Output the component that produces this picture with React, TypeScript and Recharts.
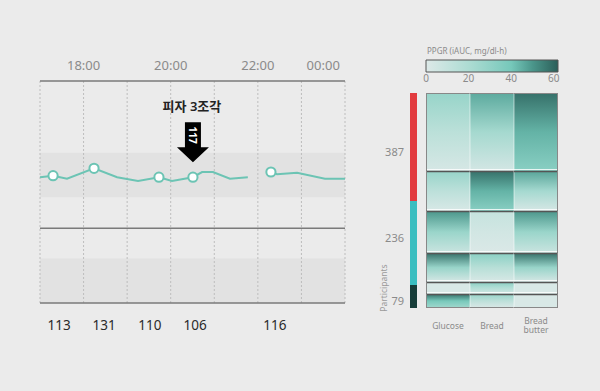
import React from "react";
import {
  ComposedChart,
  Line,
  XAxis,
  YAxis,
  ReferenceArea,
  ReferenceLine,
  ReferenceDot,
  BarChart,
  Bar,
  Cell,
} from "recharts";

// left panel: CGM trace (hours since midnight)
const hourLines = [17, 18, 19, 20, 21, 22, 23, 24];
const timeTicks = [18, 20, 22, 23.5];
const timeLabels = ["18:00", "20:00", "22:00", "00:00"];

const cgmTimes = [17.0, 17.3, 17.62, 18.24, 18.77, 19.25, 19.73, 20.03, 20.51, 20.72, 20.97, 21.36, 21.77, 22.0, 22.3, 22.44, 22.9, 23.54, 24.0];
const cgmValues = [170, 172, 168, 182, 170, 165, 170, 165, 170, 177, 177, 168, 170, null, 177, 174, 176, 168, 168];
const mealTimes = [17.3, 18.24, 19.73, 20.51, 22.3];

const mealLabelTimes = [17.44, 18.47, 19.52, 20.56, 22.39];
const mealLabels = ["113", "131", "110", "106", "116"];

const upperBand = [143, 203];
const lowerBand = [0, 60];
const dividerLevel = 101;

const pizzaTime = 20.51;
const pizzaLevel = 170;
const pizzaText = "피자 3조각";
const pizzaValue = "117";

// right panel: PPGR heatmap
const foods = ["Glucose", "Bread", "Bread butter"];
const clusterSizes = [78, 40, 42, 29, 12, 14];
const glucoseTop = [28, 28, 50, 58, 2, 58];
const glucoseBottom = [3, 2, 8, 3, 2, 24];
const breadTop = [46, 58, 10, 33, 33, 28];
const breadBottom = [4, 33, 1, 2, 5, 1];
const butterTop = [58, 47, 50, 58, 2, 2];
const butterBottom = [33, 3, 8, 3, 2, 2];

const groupSizes = [108, 84, 23];
const groupColors = ["#e23b3f", "#3bbec0", "#173d39"];
const groupTicks = [59, 145, 208];
const groupLabels = ["387", "236", "79"];

const ppgrTicks = [0, 20, 40, 60];
const ppgrMax = 62;

const colorStops: [number, string][] = [
  [0, "#dde9e8"],
  [20, "#addcd3"],
  [40, "#76c8ba"],
  [50, "#4b968b"],
  [62, "#2b5e59"],
];

function hex(c: string) {
  return [1, 3, 5].map((i) => parseInt(c.slice(i, i + 2), 16));
}
function ppgrColor(v: number) {
  for (let i = 1; i < colorStops.length; i++) {
    const [v1, c1] = colorStops[i];
    const [v0, c0] = colorStops[i - 1];
    if (v <= v1 || i === colorStops.length - 1) {
      const t = Math.max(0, Math.min(1, (v - v0) / (v1 - v0)));
      const a = hex(c0), b = hex(c1);
      const m = a.map((x, k) => Math.round(x + (b[k] - x) * t));
      return `rgb(${m[0]},${m[1]},${m[2]})`;
    }
  }
  return colorStops[0][1];
}

const cgmData = cgmTimes.map((t, i) => ({ t, g: cgmValues[i], meal: mealTimes.includes(t) }));
const tops = [glucoseTop, breadTop, butterTop];
const bottoms = [glucoseBottom, breadBottom, butterBottom];
const heatData = foods.map((name) => {
  const row: any = { name };
  clusterSizes.forEach((s, i) => (row["c" + i] = s));
  return row;
});
const groupData = [{ name: "p", s0: groupSizes[0], s1: groupSizes[1], s2: groupSizes[2] }];
const totalRows = clusterSizes.reduce((a, b) => a + b, 0);

const FONT = "'Noto Sans', 'Noto Sans CJK KR', sans-serif";
const TEAL = "#6cc4b4";

function MealDot(props: any) {
  const { cx, cy, payload, index } = props;
  if (!payload || !payload.meal || cy == null) return <g key={index} />;
  return <circle key={index} cx={cx} cy={cy} r={4.6} fill="#fff" stroke={TEAL} strokeWidth={2} />;
}

function PizzaArrow(props: any) {
  const { cx, cy } = props;
  const top = cy - 55, shaftEnd = cy - 30, tip = cy - 15;
  return (
    <g>
      <text x={cx - 1} y={cy - 66} textAnchor="middle" fontSize={13} fontWeight={600} fill="#222" fontFamily={FONT}>
        {pizzaText}
      </text>
      <polygon
        points={`${cx - 8},${top} ${cx + 8},${top} ${cx + 8},${shaftEnd} ${cx + 16},${shaftEnd} ${cx},${tip} ${cx - 16},${shaftEnd} ${cx - 8},${shaftEnd}`}
        fill="#000"
      />
      <text
        x={cx}
        y={cy - 42}
        textAnchor="middle"
        dominantBaseline="central"
        fontSize={10}
        fontWeight={700}
        fill="#fff"
        fontFamily={FONT}
        transform={`rotate(90 ${cx} ${cy - 42})`}
      >
        {pizzaValue}
      </text>
    </g>
  );
}

const makeHeatShape = (row: number) => (props: any) => {
  const { x, width, payload } = props;
  const y = Math.min(props.y, props.y + props.height);
  const height = Math.abs(props.height);
  const col = Math.max(0, foods.indexOf(payload?.name));
  const last = row === clusterSizes.length - 1;
  const a = tops[col][row];
  const b = bottoms[col][row];
  const gid = `heat-${row}-${col}`;
  return (
    <g>
      <defs>
        <linearGradient id={gid} x1="0" y1="0" x2="0" y2="1">
          <stop offset="0" stopColor={ppgrColor(a)} />
          <stop offset="0.5" stopColor={ppgrColor(b + (a - b) * 0.45)} />
          <stop offset="1" stopColor={ppgrColor(b)} />
        </linearGradient>
      </defs>
      <rect x={x} y={y} width={width} height={height} fill={`url(#${gid})`} />
      {col > 0 && <line x1={x} x2={x} y1={y} y2={y + height} stroke="#fff" strokeOpacity={0.55} />}
      {!last && <line x1={x} x2={x + width} y1={y + height - 1.5} y2={y + height - 1.5} stroke="#fff" strokeOpacity={0.8} />}
      <line x1={x} x2={x + width} y1={y + 0.5} y2={y + 0.5} stroke={row === 0 ? "#888" : "#555"} strokeWidth={row === 0 ? 1 : 1.6} />
      {col === 0 && <line x1={x + 0.5} x2={x + 0.5} y1={y} y2={y + height} stroke="#888" />}
      {col === foods.length - 1 && <line x1={x + width - 0.5} x2={x + width - 0.5} y1={y} y2={y + height} stroke="#888" />}
      {last && <line x1={x} x2={x + width} y1={y + height - 0.5} y2={y + height - 0.5} stroke="#888" />}
    </g>
  );
};

function FoodTick(props: any) {
  const { x, y, payload } = props;
  const words = String(payload.value).split(" ");
  const lh = 9.5;
  const start = y + 9 - ((words.length - 1) * lh) / 2;
  return (
    <text x={x} textAnchor="middle" fontSize={8.5} fill="#8a8a8a" fontFamily={FONT}>
      {words.map((w, i) => (
        <tspan key={i} x={x} y={start + i * lh} dominantBaseline="central">
          {w}
        </tspan>
      ))}
    </text>
  );
}

export default function App() {
  return (
    <div
      style={{
        position: "absolute",
        left: 0,
        top: 0,
        width: 600,
        height: 391,
        background: "#ebebeb",
        overflow: "hidden",
        fontFamily: FONT,
      }}
    >
      <div style={{ position: "absolute", left: 0, top: 0 }}>
        <ComposedChart width={360} height={391} data={cgmData} margin={{ top: 51, right: 15, left: 40, bottom: 58 }}>
          <XAxis
            dataKey="t"
            type="number"
            orientation="top"
            domain={[17, 24]}
            ticks={timeTicks}
            tickFormatter={(v: number, i: number) => timeLabels[i]}
            tickLine={false}
            tickSize={0}
            tickMargin={11}
            axisLine={{ stroke: "#7a7a7a", strokeWidth: 1.5 }}
            tick={{ fontSize: 13, fill: "#8a8a8a", fontFamily: FONT }}
            interval={0}
          />
          <XAxis
            xAxisId="b"
            dataKey="t"
            type="number"
            orientation="bottom"
            domain={[17, 24]}
            ticks={mealLabelTimes}
            tickFormatter={(v: number, i: number) => mealLabels[i]}
            tickLine={false}
            tickSize={0}
            tickMargin={17}
            axisLine={{ stroke: "#7a7a7a", strokeWidth: 1.5 }}
            tick={{ fontSize: 13.5, fill: "#2a2a2a", fontFamily: FONT }}
            interval={0}
          />
          <YAxis hide domain={[0, 300]} />
          <ReferenceArea y1={upperBand[0]} y2={upperBand[1]} fill="#e2e2e2" fillOpacity={1} stroke="none" />
          <ReferenceArea y1={lowerBand[0]} y2={lowerBand[1]} fill="#e2e2e2" fillOpacity={1} stroke="none" />
          {hourLines.map((h) => (
            <ReferenceLine key={h} x={h} stroke="#bdbdbd" strokeDasharray="2 2" />
          ))}
          <ReferenceLine y={dividerLevel} stroke="#7a7a7a" strokeWidth={1.5} />
          <Line
            dataKey="g"
            stroke={TEAL}
            strokeWidth={2}
            dot={MealDot}
            activeDot={false}
            isAnimationActive={false}
            type="linear"
          />
          <ReferenceDot x={pizzaTime} y={pizzaLevel} r={0} shape={PizzaArrow} ifOverflow="visible" />
        </ComposedChart>
      </div>

      <div
        style={{
          position: "absolute",
          left: 427,
          top: 45,
          fontSize: 8,
          color: "#8a8a8a",
          whiteSpace: "nowrap",
        }}
      >
        PPGR (iAUC, mg/dl-h)
      </div>

      <div style={{ position: "absolute", left: 416, top: 40 }}>
        <BarChart
          width={152}
          height={50}
          layout="vertical"
          data={[{ name: "scale", v: ppgrMax }]}
          margin={{ top: 20, right: 10, left: 10, bottom: 0 }}
          barCategoryGap={0}
        >
          <defs>
            <linearGradient id="cb" x1="0" y1="0" x2="1" y2="0">
              {[0, 10, 20, 30, 40, 45, 50, 55, 62].map((v) => (
                <stop key={v} offset={v / ppgrMax} stopColor={ppgrColor(v)} />
              ))}
            </linearGradient>
          </defs>
          <XAxis
            type="number"
            domain={[0, ppgrMax]}
            ticks={ppgrTicks}
            interval={0}
            tickLine={false}
            axisLine={false}
            tickSize={0}
            tickMargin={3}
            height={18}
            tick={{ fontSize: 10, fill: "#8a8a8a", fontFamily: FONT }}
          />
          <YAxis type="category" dataKey="name" hide />
          <Bar dataKey="v" fill="url(#cb)" stroke="#555" strokeWidth={1} isAnimationActive={false} />
        </BarChart>
      </div>

      <div style={{ position: "absolute", left: 370, top: 83 }}>
        <BarChart width={52} height={230} data={groupData} margin={{ top: 10, right: 5, left: 0, bottom: 5 }} barCategoryGap={0}>
          <XAxis dataKey="name" hide />
          <YAxis
            reversed
            domain={[0, totalRows]}
            ticks={groupTicks}
            tickFormatter={(v: number, i: number) => groupLabels[i]}
            interval={0}
            width={40}
            tickLine={false}
            axisLine={false}
            tickSize={0}
            tickMargin={6}
            tick={{ fontSize: 11, fill: "#8a8a8a", fontFamily: FONT }}
          />
          {groupSizes.map((_, i) => (
            <Bar key={i} dataKey={"s" + i} stackId="g" fill={groupColors[i]} isAnimationActive={false} />
          ))}
        </BarChart>
      </div>

      <div
        style={{
          position: "absolute",
          left: 383,
          top: 288,
          fontSize: 8.5,
          color: "#9a9a9a",
          whiteSpace: "nowrap",
          transform: "translate(-50%, -50%) rotate(-90deg)",
        }}
      >
        Participants
      </div>

      <div style={{ position: "absolute", left: 416, top: 83 }}>
        <BarChart width={152} height={260} data={heatData} margin={{ top: 10, right: 10, left: 10, bottom: 0 }} barCategoryGap={0}>
          <XAxis dataKey="name" interval={0} tickLine={false} axisLine={false} height={35} tick={FoodTick} />
          <YAxis reversed hide domain={[0, totalRows]} />
          {clusterSizes.map((_, i) => (
            <Bar key={i} dataKey={"c" + i} stackId="h" shape={makeHeatShape(i)} isAnimationActive={false}>
              {foods.map((f, j) => (
                <Cell key={j} fill={ppgrColor(tops[j][i])} />
              ))}
            </Bar>
          ))}
        </BarChart>
      </div>
    </div>
  );
}
